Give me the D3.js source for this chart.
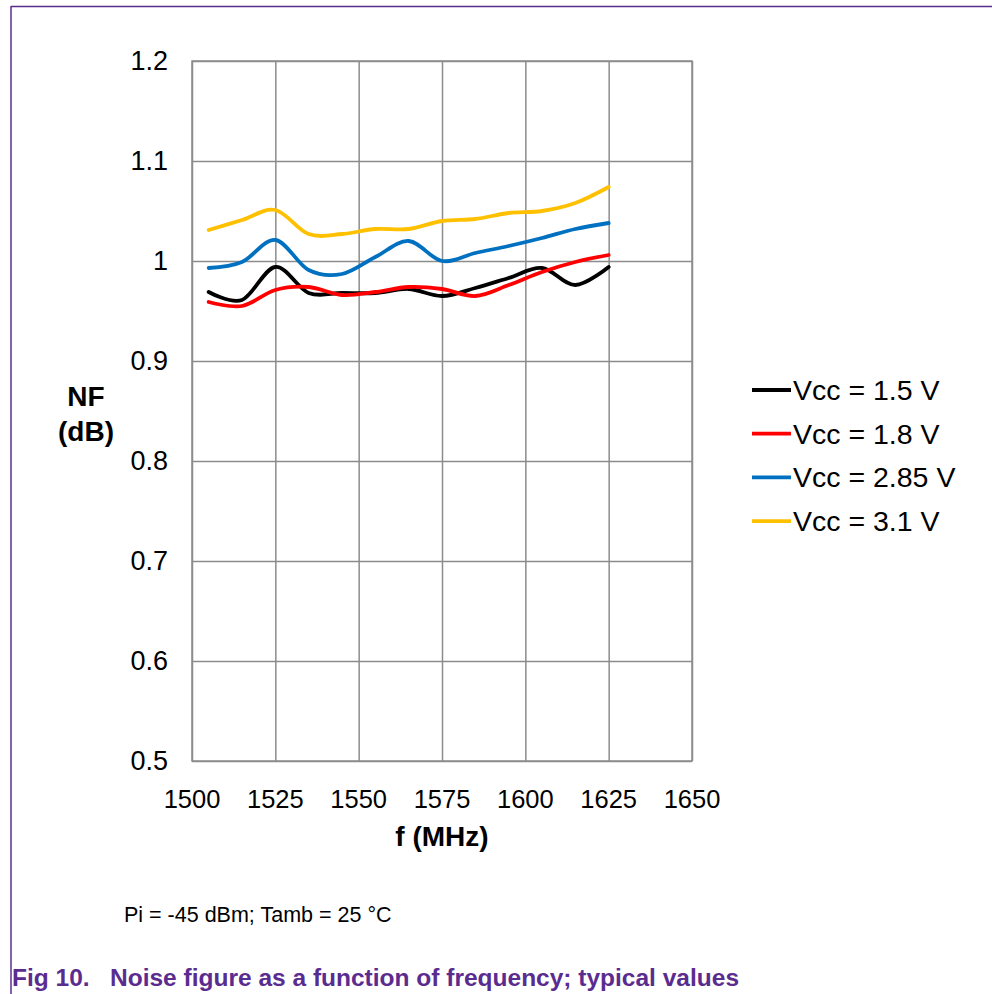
<!DOCTYPE html>
<html>
<head>
<meta charset="utf-8">
<script src="https://cdn.jsdelivr.net/npm/d3@7"></script>
<style>
    body { margin: 0; background: #fff; }
    text { font-family: "Liberation Sans", Arial, sans-serif; }
</style>
</head>
<body>
<script>
// frequency points (MHz)
const freq = [1505, 1515, 1525, 1535, 1545, 1555, 1565, 1575, 1585, 1595, 1605, 1615, 1625];

// NF (dB) per supply voltage
const nf15 = [0.969, 0.961, 0.994, 0.968, 0.968, 0.968, 0.972, 0.965, 0.973, 0.983, 0.993, 0.976, 0.994];
const nf18 = [0.959, 0.955, 0.971, 0.974, 0.966, 0.969, 0.974, 0.972, 0.965, 0.976, 0.989, 0.999, 1.006];
const nf285 = [0.993, 0.999, 1.021, 0.991, 0.987, 1.004, 1.020, 1.000, 1.008, 1.015, 1.023, 1.032, 1.038];
const nf31 = [1.031, 1.041, 1.051, 1.027, 1.027, 1.032, 1.032, 1.040, 1.042, 1.048, 1.050, 1.058, 1.074];

const seriesNames = ["Vcc = 1.5 V", "Vcc = 1.8 V", "Vcc = 2.85 V", "Vcc = 3.1 V"];
const seriesColors = ["#000000", "#ff0000", "#0070c0", "#ffc000"];
const xTicks = [1500, 1525, 1550, 1575, 1600, 1625, 1650];
const yTicks = [0.5, 0.6, 0.7, 0.8, 0.9, 1, 1.1, 1.2];

const series = [nf15, nf18, nf285, nf31].map((vals, i) => ({
    name: seriesNames[i],
    color: seriesColors[i],
    points: vals.map((v, j) => ({ f: freq[j], nf: v }))
}));

let svg = d3.select("body")
    .append("svg")
    .attr("width", 992)
    .attr("height", 994);

// frame lines
svg.append("line")
    .attr("x1", 11).attr("x2", 992).attr("y1", 6.5).attr("y2", 6.5)
    .attr("stroke", "#5b2c8f").attr("stroke-width", 1.5);
svg.append("line")
    .attr("x1", 11).attr("x2", 11).attr("y1", 6).attr("y2", 994)
    .attr("stroke", "#5b2c8f").attr("stroke-width", 1.5);

const x = d3.scaleLinear().domain([1500, 1650]).range([192, 692]);
const y = d3.scaleLinear().domain([0.5, 1.2]).range([761, 61]);

// grid
svg.append("g")
    .attr("transform", "translate(0,61)")
    .call(d3.axisBottom(x).tickValues(xTicks).tickSize(700).tickFormat(""))
    .call(g => g.select(".domain").remove())
    .selectAll("line").attr("stroke", "#8c8c8c").attr("stroke-width", 1.5);
svg.append("g")
    .attr("transform", "translate(192,0)")
    .call(d3.axisRight(y).tickValues(yTicks).tickSize(500).tickFormat(""))
    .call(g => g.select(".domain").remove())
    .selectAll("line").attr("stroke", "#8c8c8c").attr("stroke-width", 1.5);

// plot border
svg.append("rect")
    .attr("x", 192).attr("y", 61).attr("width", 500).attr("height", 700)
    .attr("fill", "none").attr("stroke", "#8c8c8c").attr("stroke-width", 1.5);

// tick labels
svg.append("g")
    .selectAll("text")
    .data(yTicks)
    .enter()
    .append("text")
    .attr("x", 168)
    .attr("y", d => y(d))
    .attr("dy", "0.35em")
    .attr("text-anchor", "end")
    .attr("font-size", 27)
    .text(d => d3.format("~g")(d));
svg.append("g")
    .selectAll("text")
    .data(xTicks)
    .enter()
    .append("text")
    .attr("x", d => x(d))
    .attr("y", 808)
    .attr("text-anchor", "middle")
    .attr("font-size", 25.5)
    .text(d => d);

// axis titles
svg.append("text")
    .attr("x", 442).attr("y", 846)
    .attr("text-anchor", "middle")
    .attr("font-size", 28).attr("font-weight", "bold")
    .text("f (MHz)");
svg.append("text")
    .attr("x", 86).attr("y", 406)
    .attr("text-anchor", "middle")
    .attr("font-size", 28).attr("font-weight", "bold")
    .text("NF");
svg.append("text")
    .attr("x", 86).attr("y", 441)
    .attr("text-anchor", "middle")
    .attr("font-size", 28).attr("font-weight", "bold")
    .text("(dB)");

// curves
const line = d3.line()
    .x(d => x(d.f))
    .y(d => y(d.nf))
    .curve(d3.curveCardinal.tension(0));

svg.append("g")
    .selectAll("path")
    .data(series)
    .enter()
    .append("path")
    .attr("d", d => line(d.points))
    .attr("fill", "none")
    .attr("stroke", d => d.color)
    .attr("stroke-width", 3.8)
    .attr("stroke-linejoin", "round")
    .attr("stroke-linecap", "round");

// legend
let legend = svg.append("g")
    .selectAll("g")
    .data(series)
    .enter()
    .append("g")
    .attr("transform", (d, i) => "translate(752," + (390 + i * 43.7) + ")");
legend.append("line")
    .attr("x1", 0).attr("x2", 39)
    .attr("stroke", d => d.color)
    .attr("stroke-width", 3.8);
legend.append("text")
    .attr("x", 41)
    .attr("dy", "0.35em")
    .attr("font-size", 28.5)
    .text(d => d.name);

// notes
svg.append("text")
    .attr("x", 124).attr("y", 922)
    .attr("font-size", 21.5)
    .text("Pi = -45 dBm; Tamb = 25 °C");
svg.append("text")
    .attr("x", 12).attr("y", 986)
    .attr("font-size", 24.5).attr("font-weight", "bold")
    .attr("fill", "#5b2c8f")
    .attr("xml:space", "preserve")
    .text("Fig 10.   Noise figure as a function of frequency; typical values");
</script>
</body>
</html>
